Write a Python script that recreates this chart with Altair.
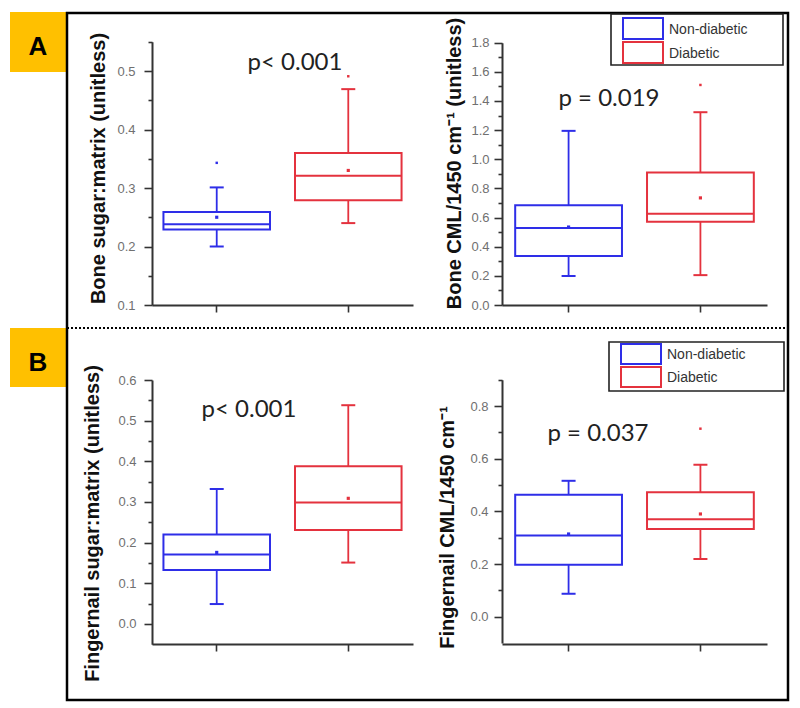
import altair as alt
import pandas as pd

W, H = 784, 700          # drawing area (page minus 8px margin)
groups = ["Non-diabetic", "Diabetic"]
box_colors = ["#2e2ee8", "#e4323e"]
out_colors = ["#8080f0", "#f07070"]

# ---------- Panel A (bone) ----------
# sugar:matrix
bs_lo = [0.200, 0.240]
bs_q1 = [0.229, 0.279]
bs_med = [0.238, 0.321]
bs_q3 = [0.259, 0.360]
bs_hi = [0.301, 0.469]
bs_mean = [0.250, 0.330]
bs_out_g = ["Non-diabetic", "Diabetic"]
bs_out_v = [0.343, 0.491]
bs_ticks = [0.10, 0.15, 0.20, 0.25, 0.30, 0.35, 0.40, 0.45, 0.50, 0.55]

# CML/1450
bc_lo = [0.199, 0.205]
bc_q1 = [0.337, 0.572]
bc_med = [0.528, 0.627]
bc_q3 = [0.684, 0.909]
bc_hi = [1.195, 1.323]
bc_mean = [0.535, 0.735]
bc_out_g = ["Diabetic"]
bc_out_v = [1.51]
bc_ticks = [0.0, 0.1, 0.2, 0.3, 0.4, 0.5, 0.6, 0.7, 0.8, 0.9, 1.0, 1.1, 1.2,
            1.3, 1.4, 1.5, 1.6, 1.7, 1.8]

# ---------- Panel B (fingernail) ----------
fs_lo = [0.049, 0.151]
fs_q1 = [0.133, 0.231]
fs_med = [0.171, 0.299]
fs_q3 = [0.220, 0.388]
fs_hi = [0.332, 0.538]
fs_mean = [0.176, 0.309]
fs_out_g = []
fs_out_v = []
fs_ticks = [0.0, 0.05, 0.10, 0.15, 0.20, 0.25, 0.30, 0.35, 0.40, 0.45, 0.50,
            0.55, 0.60]

fc_lo = [0.087, 0.219]
fc_q1 = [0.197, 0.333]
fc_med = [0.308, 0.370]
fc_q3 = [0.463, 0.473]
fc_hi = [0.516, 0.577]
fc_mean = [0.314, 0.390]
fc_out_g = ["Diabetic"]
fc_out_v = [0.714]
fc_ticks = [0.0, 0.1, 0.2, 0.3, 0.4, 0.5, 0.6, 0.7, 0.8, 0.9]

p_texts = ["p< 0.001", "p = 0.019", "p< 0.001", "p = 0.037"]
panel_letters = ["A", "B"]
titles = ["Bone sugar:matrix (unitless)", "Bone CML/1450 cm\u207b\u00b9 (unitless)",
          "Fingernail sugar:matrix (unitless)", "Fingernail CML/1450 cm\u207b\u00b9"]


def panel(lo, q1, med, q3, hi, mean, og, ov, ydom, yrange, yvals, major,
          xrange, pin, pout, xaxis_y, yaxis_x, title, lpad, tpad, ty):
    df = pd.DataFrame({"group": groups, "lo": lo, "q1": q1, "med": med,
                       "q3": q3, "hi": hi, "mean": mean})
    odf = pd.DataFrame({"group": og, "v": ov})
    test = f"abs(datum.value*{major} - round(datum.value*{major})) < 0.001"
    xs = alt.Scale(type="band", domain=groups, range=xrange,
                   paddingInner=pin, paddingOuter=pout)
    ys = alt.Scale(domain=ydom, range=yrange, nice=False, zero=False)
    cs = alt.Scale(domain=groups, range=box_colors)
    xax = alt.Axis(orient="bottom", offset=xaxis_y - H, labels=False, title=None,
                   domainColor="#333333", domainWidth=2, tickColor="#333333",
                   tickWidth=1.6, tickSize=7, grid=False)
    yax = alt.Axis(orient="left", offset=-yaxis_x, values=yvals, title=title,
                   labelExpr=f"{test} ? format(datum.value, '.1f') : ''",
                   tickSize={"condition": {"test": test, "value": 8}, "value": 4},
                   labelOverlap=False, grid=False,
                   domainColor="#333333", domainWidth=2, tickColor="#333333",
                   tickWidth=1.6, labelColor="#707070", labelFont="Liberation Sans",
                   labelFontSize=13, labelPadding=lpad,
                   titleFont="Liberation Sans", titleFontSize=20,
                   titleFontWeight="bold", titleColor="#111111",
                   titlePadding=tpad, titleY=ty)
    X = alt.X("group:N", scale=xs, axis=xax)
    C = alt.Color("group:N", scale=cs, legend=None)
    base = alt.Chart(df)
    whisk = base.mark_rule(strokeWidth=1.8, opacity=1).encode(
        x=X, y=alt.Y("lo:Q", scale=ys, axis=yax), y2="hi:Q", color=C)
    cap_lo = base.mark_tick(size=14, thickness=2, opacity=1).encode(
        x=X, y=alt.Y("lo:Q", scale=ys, axis=yax), color=C)
    cap_hi = base.mark_tick(size=14, thickness=2, opacity=1).encode(
        x=X, y=alt.Y("hi:Q", scale=ys, axis=yax), color=C)
    box = base.mark_rect(fill="white", strokeWidth=2).encode(
        x=X, y=alt.Y("q1:Q", scale=ys, axis=yax), y2="q3:Q",
        stroke=alt.Stroke("group:N", scale=cs, legend=None))
    medl = base.mark_tick(size=106, thickness=2, opacity=1).encode(
        x=X, y=alt.Y("med:Q", scale=ys, axis=yax), color=C)
    meanp = base.mark_square(size=10, opacity=1).encode(
        x=X, y=alt.Y("mean:Q", scale=ys, axis=yax), color=C)
    layers = [whisk, cap_lo, cap_hi, box, medl, meanp]
    if len(og):
        outp = alt.Chart(odf).mark_square(size=6, opacity=1).encode(
            x=X, y=alt.Y("v:Q", scale=ys, axis=yax),
            color=alt.Color("group:N", scale=alt.Scale(domain=groups, range=out_colors),
                            legend=None))
        layers.append(outp)
    return alt.layer(*layers)


pA1 = panel(bs_lo, bs_q1, bs_med, bs_q3, bs_hi, bs_mean, bs_out_g, bs_out_v,
            [0.1, 0.55], [297, 33.75], bs_ticks, 10,
            [144, 405], 0.19, 0.087, 297, 144, titles[0], 9, 8, 160)
pA2 = panel(bc_lo, bc_q1, bc_med, bc_q3, bc_hi, bc_mean, bc_out_g, bc_out_v,
            [0.0, 1.8], [297, 34.7], bc_ticks, 5,
            [494, 759], 0.19, 0.10, 297, 494, titles[1], 5, 6, 155)
pB1 = panel(fs_lo, fs_q1, fs_med, fs_q3, fs_hi, fs_mean, fs_out_g, fs_out_v,
            [-0.05, 0.6], [636.3, 372], fs_ticks, 10,
            [144, 405], 0.19, 0.087, 636, 144, titles[2], 8, 15, 515)
pB2 = panel(fc_lo, fc_q1, fc_med, fc_q3, fc_hi, fc_mean, fc_out_g, fc_out_v,
            [-0.1, 0.9], [635, 371.7], fc_ticks, 5,
            [494, 759], 0.19, 0.10, 636, 494, titles[3], 6, 12, 519)

one = pd.DataFrame({"k": [0]})


def rect(x, x2, y, y2, **kw):
    return alt.Chart(one).mark_rect(**kw).encode(
        x=alt.value(x), x2=alt.value(x2), y=alt.value(y), y2=alt.value(y2))


def label(txt, x, y, **kw):
    return alt.Chart(pd.DataFrame({"t": [txt]})).mark_text(**kw).encode(
        x=alt.value(x), y=alt.value(y), text="t:N")


deco = [
    rect(2, 59, 4, 64, color="#FFC000"),
    rect(2, 59, 320, 379, color="#FFC000"),
    label(panel_letters[0], 30, 47, fontSize=26, fontWeight="bold",
          font="Liberation Sans", align="center", baseline="alphabetic", color="black"),
    label(panel_letters[1], 30, 363, fontSize=26, fontWeight="bold",
          font="Liberation Sans", align="center", baseline="alphabetic", color="black"),
    rect(59, 780, 5, 692, fillOpacity=0, stroke="black", strokeWidth=2.5),
    alt.Chart(one).mark_rule(strokeDash=[2, 2], strokeWidth=2, color="black").encode(
        x=alt.value(59), x2=alt.value(780), y=alt.value(320)),
]

ptxt = [
    label(p_texts[0], 287, 62, font="Lato", fontSize=24, align="center",
          baseline="alphabetic", color="#222222"),
    label(p_texts[1], 601, 98, font="Lato", fontSize=24, align="center",
          baseline="alphabetic", color="#222222"),
    label(p_texts[2], 241, 409, font="Lato", fontSize=24, align="center",
          baseline="alphabetic", color="#222222"),
    label(p_texts[3], 590, 433, font="Lato", fontSize=24, align="center",
          baseline="alphabetic", color="#222222"),
]


def legend(x0, x1, y0, y1, sw):
    parts = [rect(x0, x1, y0, y1, fillOpacity=0, stroke="#222222", strokeWidth=1.6)]
    for i, g in enumerate(groups):
        sy0, sy1 = sw[i]
        parts.append(rect(x0 + 12, x0 + 52, sy0, sy1, fillOpacity=0,
                          stroke=box_colors[i], strokeWidth=2))
        parts.append(label(g, x0 + 58, (sy0 + sy1) / 2 + 1, font="Liberation Sans",
                           fontSize=14, align="left", baseline="middle",
                           color="#333333"))
    return parts


legA = legend(603, 775, 6, 57, [(10, 31), (34, 55)])
legB = legend(601, 776, 334, 383, [(336, 356), (359, 379)])

chart = alt.layer(*deco, pA1, pA2, pB1, pB2, *ptxt, *legA, *legB).resolve_scale(
    x="independent", y="independent", color="independent", stroke="independent"
).properties(
    width=W, height=H, autosize=alt.AutoSizeParams(type="none"), padding=0
).configure_view(stroke=None)

chart.save("out.html", embed_options={"renderer": "svg", "actions": False})
